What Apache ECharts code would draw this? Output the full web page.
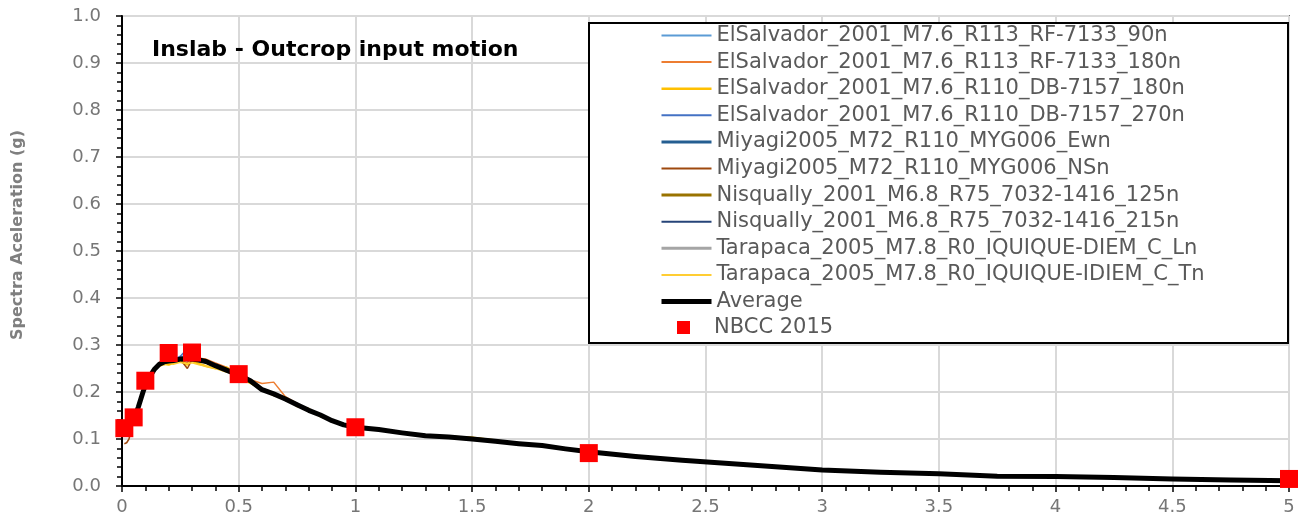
<!DOCTYPE html>
<html>
<head>
<meta charset="utf-8">
<title>Inslab - Outcrop input motion</title>
<script src="https://cdn.jsdelivr.net/npm/echarts@6/dist/echarts.min.js"></script>
<style>
  html, body { margin: 0; padding: 0; background: #fff; }
  #chart { width: 1304px; height: 523px; }
</style>
</head>
<body>
<div id="chart"></div>
<script>
// Periods (s) shared by every response spectrum
const periods = [0.01,0.02,0.03,0.04,0.05,0.06,0.07,0.08,0.09,0.1,
  0.12,0.14,0.16,0.18,0.2,
  0.22,0.25,0.28,0.3,
  0.33,0.36,0.4,0.45,0.5,
  0.55,0.6,0.65,0.7,0.75,0.8,0.85,0.9,0.95,1.0,
  1.1,1.2,1.3,1.4,1.5,1.6,1.7,1.8,1.9,2.0,
  2.2,2.4,2.6,2.8,3.0,
  3.25,3.5,3.75,4.0,4.25,4.5,4.75,5.0];

// Spectral acceleration (g) of each scaled record
const elSalvadorRf90 = [0.118,0.120,0.126,0.135,0.146,0.158,0.170,0.186,0.203,0.218,
  0.238,0.252,0.262,0.266,0.263,
  0.270,0.274,0.280,0.268,
  0.264,0.268,0.259,0.243,0.238,
  0.220,0.203,0.199,0.187,0.170,0.163,0.149,0.141,0.128,0.127,
  0.118,0.115,0.106,0.105,0.099,0.096,0.089,0.087,0.078,0.074,
  0.062,0.056,0.047,0.042,0.033,
  0.030,0.025,0.022,0.019,0.018,0.016,0.013,0.011];
const elSalvadorRf180 = [0.122,0.123,0.124,0.130,0.140,0.152,0.166,0.181,0.198,0.212,
  0.230,0.246,0.257,0.262,0.268,
  0.265,0.268,0.262,0.273,
  0.272,0.270,0.262,0.252,0.240,
  0.226,0.218,0.221,0.190,0.176,0.160,0.154,0.137,0.131,0.124,
  0.121,0.112,0.105,0.103,0.101,0.094,0.091,0.085,0.080,0.072,
  0.064,0.054,0.049,0.040,0.035,
  0.028,0.026,0.021,0.020,0.017,0.015,0.013,0.011];
const elSalvadorDb180 = [0.119,0.120,0.127,0.134,0.144,0.156,0.169,0.183,0.199,0.216,
  0.236,0.250,0.256,0.260,0.258,
  0.262,0.266,0.258,0.266,
  0.260,0.255,0.250,0.252,0.230,
  0.219,0.206,0.193,0.188,0.170,0.164,0.148,0.140,0.131,0.124,
  0.121,0.112,0.108,0.105,0.103,0.097,0.089,0.085,0.080,0.072,
  0.064,0.055,0.047,0.041,0.034,
  0.029,0.026,0.021,0.020,0.017,0.015,0.013,0.011];
const elSalvadorDb270 = [0.121,0.122,0.125,0.131,0.142,0.154,0.167,0.185,0.201,0.213,
  0.233,0.251,0.261,0.268,0.272,
  0.269,0.276,0.292,0.275,
  0.270,0.262,0.254,0.248,0.235,
  0.222,0.204,0.195,0.184,0.176,0.158,0.152,0.138,0.131,0.126,
  0.119,0.114,0.106,0.106,0.099,0.095,0.091,0.086,0.078,0.073,
  0.063,0.055,0.049,0.041,0.034,
  0.029,0.026,0.021,0.020,0.018,0.015,0.013,0.011];
const miyagiEw = [0.120,0.121,0.124,0.133,0.143,0.157,0.169,0.183,0.198,0.215,
  0.235,0.248,0.258,0.265,0.268,
  0.266,0.272,0.268,0.271,
  0.266,0.267,0.257,0.245,0.237,
  0.225,0.206,0.197,0.183,0.174,0.162,0.150,0.140,0.129,0.126,
  0.120,0.114,0.108,0.103,0.100,0.096,0.090,0.087,0.079,0.073,
  0.063,0.055,0.048,0.042,0.034,
  0.029,0.026,0.021,0.020,0.018,0.015,0.013,0.011];
const miyagiNs = [0.090,0.092,0.100,0.120,0.140,0.154,0.168,0.182,0.199,0.213,
  0.232,0.247,0.259,0.263,0.265,
  0.268,0.269,0.250,0.269,
  0.271,0.264,0.257,0.247,0.236,
  0.224,0.207,0.196,0.186,0.172,0.161,0.152,0.138,0.130,0.125,
  0.120,0.113,0.107,0.104,0.100,0.095,0.090,0.086,0.079,0.073,
  0.063,0.055,0.048,0.041,0.034,
  0.029,0.026,0.021,0.020,0.018,0.015,0.013,0.011];
const nisqually125 = [0.121,0.122,0.126,0.133,0.144,0.155,0.167,0.185,0.201,0.215,
  0.233,0.249,0.260,0.263,0.267,
  0.268,0.269,0.272,0.268,
  0.267,0.263,0.255,0.249,0.232,
  0.221,0.205,0.195,0.186,0.172,0.160,0.150,0.140,0.130,0.125,
  0.121,0.113,0.106,0.105,0.102,0.096,0.090,0.085,0.079,0.074,
  0.063,0.055,0.048,0.041,0.034,
  0.029,0.026,0.021,0.020,0.018,0.015,0.013,0.011];
const nisqually215 = [0.120,0.121,0.125,0.132,0.143,0.155,0.169,0.184,0.200,0.214,
  0.235,0.249,0.259,0.264,0.266,
  0.267,0.271,0.274,0.270,
  0.268,0.266,0.256,0.246,0.236,
  0.223,0.205,0.196,0.185,0.173,0.161,0.151,0.139,0.130,0.125,
  0.120,0.113,0.107,0.104,0.100,0.095,0.090,0.086,0.079,0.073,
  0.063,0.055,0.048,0.041,0.034,
  0.029,0.026,0.021,0.020,0.018,0.015,0.013,0.011];
const tarapacaL = [0.122,0.123,0.126,0.131,0.141,0.153,0.167,0.183,0.200,0.213,
  0.232,0.250,0.258,0.263,0.265,
  0.264,0.268,0.270,0.268,
  0.266,0.263,0.258,0.244,0.234,
  0.225,0.207,0.197,0.184,0.174,0.162,0.150,0.140,0.129,0.125,
  0.120,0.113,0.107,0.104,0.100,0.095,0.090,0.086,0.079,0.073,
  0.063,0.055,0.048,0.041,0.034,
  0.029,0.026,0.021,0.020,0.018,0.015,0.013,0.011];
const tarapacaT = [0.119,0.121,0.125,0.133,0.142,0.156,0.168,0.184,0.199,0.214,
  0.236,0.247,0.255,0.258,0.262,
  0.259,0.263,0.260,0.262,
  0.258,0.255,0.250,0.242,0.240,
  0.221,0.203,0.194,0.186,0.175,0.163,0.149,0.141,0.130,0.124,
  0.121,0.112,0.108,0.103,0.101,0.095,0.091,0.085,0.080,0.073,
  0.063,0.055,0.048,0.041,0.034,
  0.029,0.026,0.021,0.020,0.018,0.015,0.013,0.011];

// Mean spectrum of the ten records
const averageSa = [0.120,0.121,0.125,0.132,0.143,0.155,0.168,0.184,0.200,0.214,
  0.234,0.249,0.259,0.264,0.266,
  0.267,0.270,0.271,0.270,
  0.268,0.265,0.256,0.246,0.236,
  0.224,0.205,0.196,0.185,0.173,0.161,0.151,0.139,0.130,0.125,
  0.120,0.113,0.107,0.104,0.100,0.095,0.090,0.086,0.079,0.073,
  0.063,0.055,0.048,0.041,0.034,
  0.029,0.026,0.021,0.020,0.018,0.015,0.013,0.011];

// NBCC 2015 design spectrum ordinates
const nbccPeriods = [0.01, 0.05, 0.1, 0.2, 0.3, 0.5, 1.0, 2.0, 5.0];
const nbccSa = [0.123, 0.146, 0.224, 0.283, 0.284, 0.238, 0.125, 0.070, 0.015];

const recordNames = [
  'ElSalvador_2001_M7.6_R113_RF-7133_90n',
  'ElSalvador_2001_M7.6_R113_RF-7133_180n',
  'ElSalvador_2001_M7.6_R110_DB-7157_180n',
  'ElSalvador_2001_M7.6_R110_DB-7157_270n',
  'Miyagi2005_M72_R110_MYG006_Ewn',
  'Miyagi2005_M72_R110_MYG006_NSn',
  'Nisqually_2001_M6.8_R75_7032-1416_125n',
  'Nisqually_2001_M6.8_R75_7032-1416_215n',
  'Tarapaca_2005_M7.8_R0_IQUIQUE-DIEM_C_Ln',
  'Tarapaca_2005_M7.8_R0_IQUIQUE-IDIEM_C_Tn'
];
const recordValues = [elSalvadorRf90, elSalvadorRf180, elSalvadorDb180, elSalvadorDb270,
  miyagiEw, miyagiNs, nisqually125, nisqually215, tarapacaL, tarapacaT];
const recordColors = ['#5B9BD5', '#ED7D31', '#FFC000', '#4472C4', '#255E91',
  '#9E480E', '#997300', '#264478', '#A5A5A5', '#FFCD33'];
const recordWidths = [1.5, 1.5, 2.2, 1.5, 2.4, 1.5, 2.4, 1.5, 2.4, 1.5];
const legendWidths = [2, 2, 2.5, 2, 3, 2, 3, 2, 3, 2];

const FONT = 'DejaVu Sans';
const pair = (xs, ys) => xs.map((x, i) => [x, ys[i]]);

const series = recordNames.map((name, i) => ({
  name: name,
  type: 'line',
  data: pair(periods, recordValues[i]),
  symbol: 'none',
  showSymbol: false,
  lineStyle: { color: recordColors[i], width: recordWidths[i] },
  itemStyle: { color: recordColors[i] },
  z: 2,
  silent: true
}));
series.push({
  name: 'Average',
  type: 'line',
  data: pair(periods, averageSa),
  symbol: 'none',
  showSymbol: false,
  lineStyle: { color: '#000000', width: 5, join: 'round' },
  itemStyle: { color: '#000000' },
  z: 2,
  silent: true
});
series.push({
  name: 'NBCC 2015',
  type: 'scatter',
  data: pair(nbccPeriods, nbccSa),
  symbol: 'rect',
  symbolSize: 18,
  itemStyle: { color: '#FF0000', opacity: 1 },
  z: 2,
  silent: true
});

// Legend entries for the lines: plain line sample, no marker
const lineLegendData = recordNames.map((name, i) => ({
  name: name,
  itemStyle: { opacity: 0 },
  lineStyle: { width: legendWidths[i] }
})).concat([{ name: 'Average', itemStyle: { opacity: 0 }, lineStyle: { width: 5 } }]);

const legendText = { fontFamily: FONT, fontSize: 21, color: '#595959', lineHeight: 20 };

const chart = echarts.init(document.getElementById('chart'), null, { renderer: 'canvas' });
chart.setOption({
  animation: false,
  backgroundColor: '#ffffff',
  title: {
    text: 'Inslab - Outcrop input motion',
    left: 152,
    top: 39,
    padding: 0,
    textStyle: { fontFamily: FONT, fontWeight: 'bold', fontSize: 22, color: '#000000' }
  },
  grid: {
    left: 122, right: 15, top: 16, bottom: 37,
    show: true, borderColor: '#000000', borderWidth: 1.5, backgroundColor: 'transparent'
  },
  legend: [{
    orient: 'vertical',
    left: 659,
    top: 25,
    padding: 0,
    itemWidth: 50,
    itemHeight: 14,
    itemGap: 5.6,
    selectedMode: false,
    textStyle: legendText,
    data: lineLegendData
  }, {
    orient: 'vertical',
    left: 677,
    top: 317,
    padding: 0,
    itemWidth: 13,
    itemHeight: 13,
    selectedMode: false,
    icon: 'rect',
    textStyle: Object.assign({ padding: [0, 0, 0, 19] }, legendText),
    data: ['NBCC 2015']
  }],
  graphic: [{
    type: 'rect',
    z: 3,
    shape: { x: 589, y: 23, width: 699, height: 320 },
    style: { fill: '#ffffff', stroke: '#000000', lineWidth: 2 },
    silent: true
  }],
  xAxis: {
    type: 'value',
    min: 0, max: 5, interval: 0.5,
    axisLine: { show: true, onZero: false, lineStyle: { color: '#000000', width: 2 } },
    axisTick: { show: true, length: 6, lineStyle: { color: '#000000', width: 1.5 } },
    minorTick: { show: true, splitNumber: 5, length: 5, lineStyle: { color: '#000000', width: 1.5 } },
    splitLine: { show: true, lineStyle: { color: '#D9D9D9', width: 2 } },
    axisLabel: { fontFamily: FONT, fontSize: 18, color: '#767676', margin: 12 }
  },
  yAxis: {
    type: 'value',
    min: 0, max: 1, interval: 0.1,
    name: 'Spectra Aceleration (g)',
    nameLocation: 'middle',
    nameGap: 96,
    nameTextStyle: { fontFamily: FONT, fontWeight: 'bold', fontSize: 16, color: '#7F7F7F', padding: [0, 0, 0, 32] },
    axisLine: { show: true, lineStyle: { color: '#000000', width: 2 } },
    axisTick: { show: true, length: 6, lineStyle: { color: '#000000', width: 1.5 } },
    minorTick: { show: true, splitNumber: 5, length: 5, lineStyle: { color: '#000000', width: 1.5 } },
    splitLine: { show: true, lineStyle: { color: '#D9D9D9', width: 2 } },
    axisLabel: { fontFamily: FONT, fontSize: 18, color: '#767676', margin: 21,
      formatter: v => v.toFixed(1) }
  },
  series: series
});
</script>
</body>
</html>
